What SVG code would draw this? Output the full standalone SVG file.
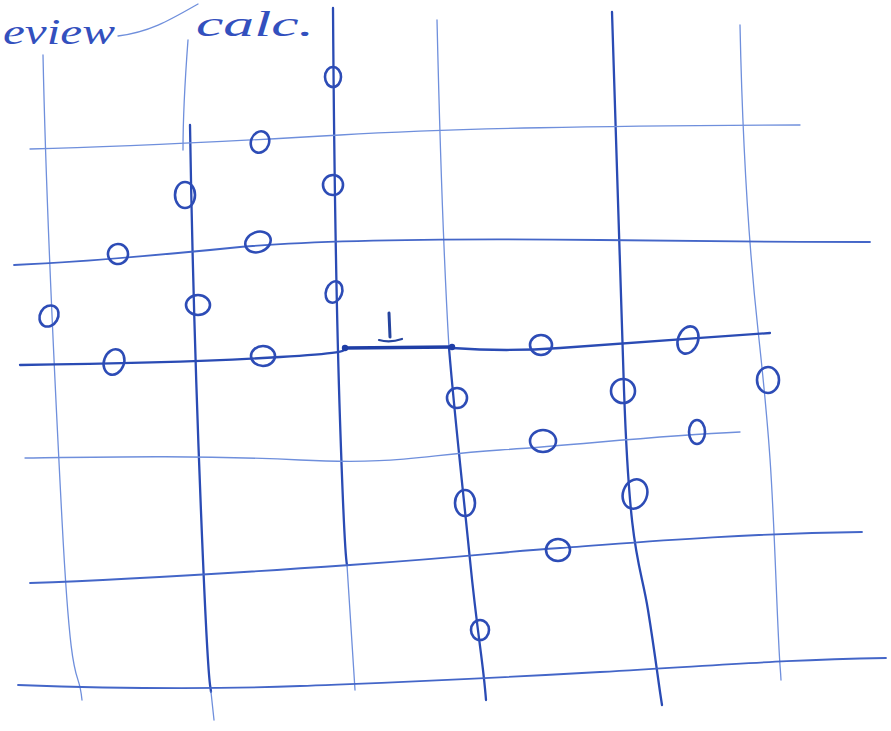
<svg xmlns="http://www.w3.org/2000/svg" width="891" height="731" viewBox="0 0 891 731">
<style>
.thin{fill:none;stroke:#6f8fdc;stroke-width:1.3;stroke-linecap:round}
.mid{fill:none;stroke:#4466c8;stroke-width:1.8;stroke-linecap:round}
.thick{fill:none;stroke:#2a4bb4;stroke-width:2.3;stroke-linecap:round}
.c{fill:none;stroke:#2d4cb6;stroke-width:2.6}
.t{font-family:"Liberation Serif",serif;font-style:italic;fill:#3350be;font-size:36px}
</style>
<rect width="891" height="731" fill="#fff"/>
<g id="title">
<text class="t" x="3" y="44" textLength="112" lengthAdjust="spacingAndGlyphs">eview</text>
<text class="t" x="196" y="36" textLength="118" lengthAdjust="spacingAndGlyphs">calc.</text>
<path class="thin" d="M118,36 C150,32 170,20 198,4"/>
</g>
<g id="grid">
<path class="thin" d="M43,55 C46,200 52,330 62,520 S78,660 82,700"/>
<path class="thin" d="M188,40 C185,80 183,120 183,150"/>
<path class="thick" d="M190,125 C192,250 197,420 203,560 S210,680 211,692"/>
<path class="thin" d="M211,692 L214,720"/>
<path class="thick" d="M333,8 C334,150 336,300 340,420 S346,560 347,565"/>
<path class="thin" d="M347,565 L355,690"/>
<path class="thin" d="M437,20 C440,150 445,280 449,348"/>
<path class="thick" d="M449,348 C455,420 462,480 470,560 S483,660 486,700"/>
<path class="thick" d="M612,12 C615,100 618,220 624,390 S640,560 648,610 S658,680 662,705"/>
<path class="thin" d="M740,25 C742,120 746,220 758,330 S772,480 776,580 S780,660 781,680"/>
<path class="thin" d="M30,149 C120,147 220,142 340,135 S600,126 800,125"/>
<path class="mid" d="M14,265 C80,262 160,255 230,248 S420,238 600,240 S780,242 870,242"/>
<path class="thick" d="M20,365 C100,364 200,362 280,357 S340,350 345,349"/>
<path class="thick" d="M452,348 C480,350 520,351 560,348 S700,338 770,333"/>
<path class="thin" d="M25,458 C100,457 200,455 300,460 S420,455 500,450 S650,436 740,432"/>
<path class="mid" d="M30,583 C120,580 220,574 350,565 S500,552 560,548 S720,534 862,532"/>
<path class="mid" d="M18,685 C100,688 200,690 300,686 S460,680 600,672 S780,660 886,658"/>
</g>
<g id="bar">
<path d="M345,348 L452,347" stroke="#1f3ea6" stroke-width="3.5" fill="none"/>
<circle cx="345" cy="348" r="3.2" fill="#1f3ea6"/>
<circle cx="452" cy="347" r="3.2" fill="#1f3ea6"/>
<path d="M389,313 L390,337" stroke="#25449e" stroke-width="3" fill="none" stroke-linecap="round"/>
<path d="M379,340 Q390,343 402,339" stroke="#25449e" stroke-width="2.2" fill="none" stroke-linecap="round"/>
</g>
<g id="points">
<ellipse class="c" cx="333" cy="77" rx="8" ry="10"/>
<ellipse class="c" cx="260" cy="142" rx="9" ry="11" transform="rotate(20 260 142)"/>
<ellipse class="c" cx="333" cy="185" rx="10" ry="10"/>
<ellipse class="c" cx="185" cy="195" rx="10" ry="13"/>
<ellipse class="c" cx="258" cy="242" rx="13" ry="10" transform="rotate(-20 258 242)"/>
<ellipse class="c" cx="118" cy="254" rx="10" ry="10" transform="rotate(-30 118 254)"/>
<ellipse class="c" cx="334" cy="292" rx="8" ry="11" transform="rotate(20 334 292)"/>
<ellipse class="c" cx="198" cy="305" rx="12" ry="10"/>
<ellipse class="c" cx="49" cy="316" rx="9" ry="11" transform="rotate(30 49 316)"/>
<ellipse class="c" cx="114" cy="362" rx="10" ry="13" transform="rotate(20 114 362)"/>
<ellipse class="c" cx="263" cy="356" rx="12" ry="10"/>
<ellipse class="c" cx="541" cy="345" rx="11" ry="10"/>
<ellipse class="c" cx="688" cy="340" rx="10" ry="14" transform="rotate(20 688 340)"/>
<ellipse class="c" cx="768" cy="380" rx="11" ry="13"/>
<ellipse class="c" cx="457" cy="398" rx="10" ry="10"/>
<ellipse class="c" cx="623" cy="391" rx="12" ry="12"/>
<ellipse class="c" cx="543" cy="441" rx="13" ry="11"/>
<ellipse class="c" cx="697" cy="432" rx="8" ry="12"/>
<ellipse class="c" cx="465" cy="503" rx="10" ry="13"/>
<ellipse class="c" cx="635" cy="494" rx="12" ry="15" transform="rotate(20 635 494)"/>
<ellipse class="c" cx="558" cy="550" rx="12" ry="11"/>
<ellipse class="c" cx="480" cy="630" rx="9" ry="10"/>
</g>
</svg>
